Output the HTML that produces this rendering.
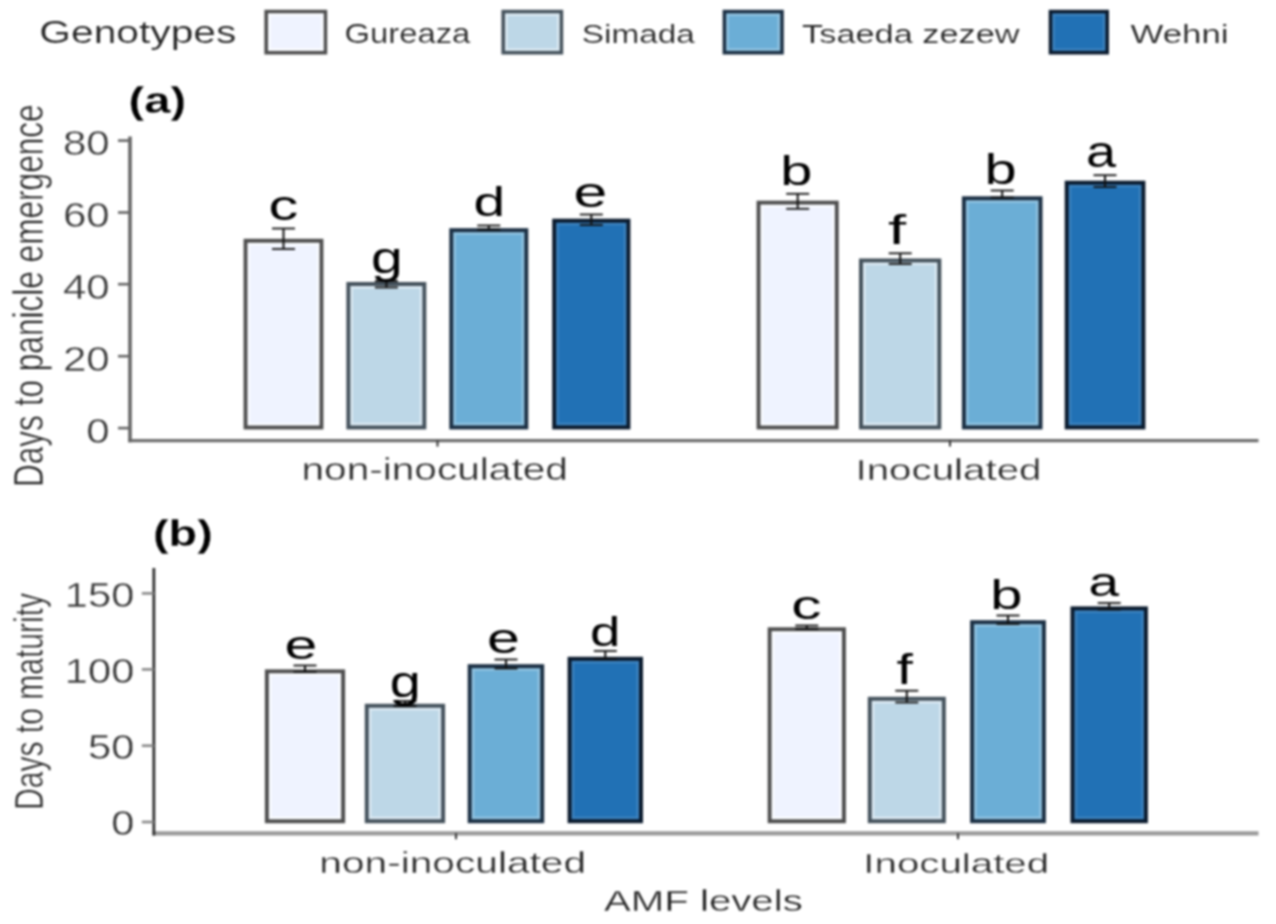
<!DOCTYPE html>
<html><head><meta charset="utf-8"><title>AMF chart</title>
<style>
html,body{margin:0;padding:0;background:#fff;}
body{width:1276px;height:924px;overflow:hidden;}
svg{display:block;}
#wrap{filter:blur(0.9px);width:1276px;height:924px;}
text{font-family:"Liberation Sans",sans-serif;}
</style></head>
<body>
<div id="wrap"><svg width="1276" height="924" viewBox="0 0 1276 924">
<rect width="1276" height="924" fill="#fff"/>
<text transform="matrix(1.2731 0 0 1.0021 39.35 43.16)" font-size="32" font-weight="400" fill="#222" stroke="#fff" stroke-width="0.2">Genotypes</text>
<rect x="266.20" y="11.60" width="59.20" height="41.10" fill="#EFF3FF" stroke="#4e4e4e" stroke-opacity="1" stroke-width="3.6"/>
<rect x="269.30" y="14.70" width="53.00" height="34.90" fill="none" stroke="#fff" stroke-opacity="0.7" stroke-width="2.6"/>
<rect x="503.20" y="11.60" width="58.20" height="41.10" fill="#BDD7E7" stroke="#45525c" stroke-opacity="1" stroke-width="3.6"/>
<rect x="506.30" y="14.70" width="52.00" height="34.90" fill="none" stroke="#fff" stroke-opacity="0.45" stroke-width="2.6"/>
<rect x="724.40" y="11.60" width="57.60" height="41.10" fill="#6BAED6" stroke="#1c3044" stroke-opacity="1" stroke-width="3.6"/>
<rect x="727.50" y="14.70" width="51.40" height="34.90" fill="none" stroke="#fff" stroke-opacity="0.25" stroke-width="2.6"/>
<rect x="1050.50" y="11.60" width="56.70" height="41.10" fill="#2171B5" stroke="#0b1b2e" stroke-opacity="1" stroke-width="3.6"/>
<rect x="1053.60" y="14.70" width="50.50" height="34.90" fill="none" stroke="#fff" stroke-opacity="0.12" stroke-width="2.6"/>
<text transform="matrix(1.1721 0 0 1.0106 344.55 43.03)" font-size="28" font-weight="400" fill="#222" stroke="#fff" stroke-width="0.2">Gureaza</text>
<text transform="matrix(1.1896 0 0 0.9534 581.79 42.64)" font-size="28" font-weight="400" fill="#222" stroke="#fff" stroke-width="0.2">Simada</text>
<text transform="matrix(1.2257 0 0 0.9534 802.12 42.64)" font-size="28" font-weight="400" fill="#222" stroke="#fff" stroke-width="0.2">Tsaeda zezew</text>
<text transform="matrix(1.2441 0 0 0.9534 1130.52 42.64)" font-size="28" font-weight="400" fill="#222" stroke="#fff" stroke-width="0.2">Wehni</text>
<text transform="matrix(1.3881 0 0 1.0937 128.60 113.22)" font-size="34" font-weight="700" fill="#000" stroke="#fff" stroke-width="0.25">(a)</text>
<text transform="matrix(1.3782 0 0 1.1094 153.02 545.51)" font-size="34" font-weight="700" fill="#000" stroke="#fff" stroke-width="0.25">(b)</text>
<text transform="matrix(0 -0.9294 1.2537 0 43.13 487.08)" font-size="34" font-weight="400" fill="#222" stroke="#fff" stroke-width="0.5">Days to panicle emergence</text>
<text transform="matrix(0 -0.8834 1.2222 0 43.35 809.95)" font-size="34" font-weight="400" fill="#222" stroke="#fff" stroke-width="0.5">Days to maturity</text>
<rect x="245.60" y="240.80" width="75.80" height="186.60" fill="#EFF3FF" stroke="#4e4e4e" stroke-opacity="1" stroke-width="4.0"/>
<rect x="248.90" y="244.10" width="69.20" height="180.00" fill="none" stroke="#fff" stroke-opacity="0.7" stroke-width="2.6"/>
<rect x="348.40" y="284.00" width="75.90" height="143.40" fill="#BDD7E7" stroke="#45525c" stroke-opacity="1" stroke-width="4.0"/>
<rect x="351.70" y="287.30" width="69.30" height="136.80" fill="none" stroke="#fff" stroke-opacity="0.45" stroke-width="2.6"/>
<rect x="451.30" y="230.20" width="75.00" height="197.20" fill="#6BAED6" stroke="#1c3044" stroke-opacity="1" stroke-width="4.0"/>
<rect x="454.60" y="233.50" width="68.40" height="190.60" fill="none" stroke="#fff" stroke-opacity="0.25" stroke-width="2.6"/>
<rect x="554.20" y="220.70" width="74.20" height="206.70" fill="#2171B5" stroke="#0b1b2e" stroke-opacity="1" stroke-width="4.0"/>
<rect x="557.50" y="224.00" width="67.60" height="200.10" fill="none" stroke="#fff" stroke-opacity="0.12" stroke-width="2.6"/>
<rect x="758.60" y="202.70" width="78.10" height="224.70" fill="#EFF3FF" stroke="#4e4e4e" stroke-opacity="1" stroke-width="4.0"/>
<rect x="761.90" y="206.00" width="71.50" height="218.10" fill="none" stroke="#fff" stroke-opacity="0.7" stroke-width="2.6"/>
<rect x="861.00" y="260.50" width="78.30" height="166.90" fill="#BDD7E7" stroke="#45525c" stroke-opacity="1" stroke-width="4.0"/>
<rect x="864.30" y="263.80" width="71.70" height="160.30" fill="none" stroke="#fff" stroke-opacity="0.45" stroke-width="2.6"/>
<rect x="963.90" y="198.30" width="76.60" height="229.10" fill="#6BAED6" stroke="#1c3044" stroke-opacity="1" stroke-width="4.0"/>
<rect x="967.20" y="201.60" width="70.00" height="222.50" fill="none" stroke="#fff" stroke-opacity="0.25" stroke-width="2.6"/>
<rect x="1066.70" y="182.70" width="76.70" height="244.70" fill="#2171B5" stroke="#0b1b2e" stroke-opacity="1" stroke-width="4.0"/>
<rect x="1070.00" y="186.00" width="70.10" height="238.10" fill="none" stroke="#fff" stroke-opacity="0.12" stroke-width="2.6"/>
<line x1="283.50" y1="228.50" x2="283.50" y2="249.00" stroke="#111" stroke-width="2.0"/>
<line x1="272.00" y1="228.50" x2="295.00" y2="228.50" stroke="#111" stroke-width="1.8"/>
<line x1="272.00" y1="249.00" x2="295.00" y2="249.00" stroke="#111" stroke-width="1.8"/>
<line x1="386.40" y1="281.00" x2="386.40" y2="287.50" stroke="#111" stroke-width="2.0"/>
<line x1="374.90" y1="281.00" x2="397.90" y2="281.00" stroke="#111" stroke-width="1.8"/>
<line x1="374.90" y1="287.50" x2="397.90" y2="287.50" stroke="#111" stroke-width="1.8"/>
<line x1="488.80" y1="225.50" x2="488.80" y2="229.50" stroke="#111" stroke-width="2.0"/>
<line x1="477.30" y1="225.50" x2="500.30" y2="225.50" stroke="#111" stroke-width="1.8"/>
<line x1="477.30" y1="229.50" x2="500.30" y2="229.50" stroke="#111" stroke-width="1.8"/>
<line x1="591.30" y1="214.50" x2="591.30" y2="225.00" stroke="#111" stroke-width="2.0"/>
<line x1="579.80" y1="214.50" x2="602.80" y2="214.50" stroke="#111" stroke-width="1.8"/>
<line x1="579.80" y1="225.00" x2="602.80" y2="225.00" stroke="#111" stroke-width="1.8"/>
<line x1="797.70" y1="193.80" x2="797.70" y2="208.80" stroke="#111" stroke-width="2.0"/>
<line x1="786.20" y1="193.80" x2="809.20" y2="193.80" stroke="#111" stroke-width="1.8"/>
<line x1="786.20" y1="208.80" x2="809.20" y2="208.80" stroke="#111" stroke-width="1.8"/>
<line x1="900.20" y1="253.30" x2="900.20" y2="264.00" stroke="#111" stroke-width="2.0"/>
<line x1="888.70" y1="253.30" x2="911.70" y2="253.30" stroke="#111" stroke-width="1.8"/>
<line x1="888.70" y1="264.00" x2="911.70" y2="264.00" stroke="#111" stroke-width="1.8"/>
<line x1="1002.20" y1="190.50" x2="1002.20" y2="197.50" stroke="#111" stroke-width="2.0"/>
<line x1="990.70" y1="190.50" x2="1013.70" y2="190.50" stroke="#111" stroke-width="1.8"/>
<line x1="990.70" y1="197.50" x2="1013.70" y2="197.50" stroke="#111" stroke-width="1.8"/>
<line x1="1105.00" y1="175.20" x2="1105.00" y2="187.00" stroke="#111" stroke-width="2.0"/>
<line x1="1093.50" y1="175.20" x2="1116.50" y2="175.20" stroke="#111" stroke-width="1.8"/>
<line x1="1093.50" y1="187.00" x2="1116.50" y2="187.00" stroke="#111" stroke-width="1.8"/>
<text transform="matrix(1.4175 0 0 1.0002 268.57 219.88)" font-size="42" font-weight="400" fill="#000">c</text>
<text transform="matrix(1.3598 0 0 1.0738 371.07 272.84)" font-size="42" font-weight="400" fill="#000">g</text>
<text transform="matrix(1.3545 0 0 0.9524 473.58 215.70)" font-size="42" font-weight="400" fill="#000">d</text>
<text transform="matrix(1.4438 0 0 1.0176 573.42 206.67)" font-size="42" font-weight="400" fill="#000">e</text>
<text transform="matrix(1.3757 0 0 0.9653 780.14 185.39)" font-size="42" font-weight="400" fill="#000">b</text>
<text transform="matrix(1.5544 0 0 0.9722 888.12 244.40)" font-size="42" font-weight="400" fill="#000">f</text>
<text transform="matrix(1.3757 0 0 0.9977 984.44 183.98)" font-size="42" font-weight="400" fill="#000">b</text>
<text transform="matrix(1.2869 0 0 1.0568 1085.90 167.06)" font-size="42" font-weight="400" fill="#000">a</text>
<line x1="128.20" y1="440.60" x2="1258.50" y2="440.60" stroke="#6e6e6e" stroke-width="3.4"/>
<line x1="130.00" y1="136.50" x2="130.00" y2="442.30" stroke="#666" stroke-width="3.6"/>
<line x1="118.00" y1="428.10" x2="130.00" y2="428.10" stroke="#666" stroke-width="2.6"/>
<line x1="118.00" y1="356.20" x2="130.00" y2="356.20" stroke="#666" stroke-width="2.6"/>
<line x1="118.00" y1="284.20" x2="130.00" y2="284.20" stroke="#666" stroke-width="2.6"/>
<line x1="118.00" y1="212.50" x2="130.00" y2="212.50" stroke="#666" stroke-width="2.6"/>
<line x1="118.00" y1="140.60" x2="130.00" y2="140.60" stroke="#666" stroke-width="2.6"/>
<line x1="437.50" y1="440.60" x2="437.50" y2="446.60" stroke="#333" stroke-width="2.0"/>
<line x1="950.00" y1="440.60" x2="950.00" y2="446.60" stroke="#333" stroke-width="2.0"/>
<text transform="matrix(1.3149 0 0 1.1148 86.24 442.66)" font-size="32" font-weight="400" fill="#333" stroke="#fff" stroke-width="0.4">0</text>
<text transform="matrix(1.3149 0 0 1.1148 62.89 370.76)" font-size="32" font-weight="400" fill="#333" stroke="#fff" stroke-width="0.4">20</text>
<text transform="matrix(1.3149 0 0 1.1148 62.89 298.76)" font-size="32" font-weight="400" fill="#333" stroke="#fff" stroke-width="0.4">40</text>
<text transform="matrix(1.3149 0 0 1.1148 62.89 227.06)" font-size="32" font-weight="400" fill="#333" stroke="#fff" stroke-width="0.4">60</text>
<text transform="matrix(1.3149 0 0 1.1148 62.89 155.16)" font-size="32" font-weight="400" fill="#333" stroke="#fff" stroke-width="0.4">80</text>
<text transform="matrix(1.2689 0 0 0.9602 301.47 479.89)" font-size="32" font-weight="400" fill="#2a2a2a" stroke="#fff" stroke-width="0.35">non-inoculated</text>
<text transform="matrix(1.2604 0 0 0.9432 855.48 479.69)" font-size="32" font-weight="400" fill="#2a2a2a" stroke="#fff" stroke-width="0.35">Inoculated</text>
<rect x="266.90" y="671.40" width="76.20" height="149.80" fill="#EFF3FF" stroke="#4e4e4e" stroke-opacity="1" stroke-width="4.0"/>
<rect x="270.20" y="674.70" width="69.60" height="143.20" fill="none" stroke="#fff" stroke-opacity="0.7" stroke-width="2.6"/>
<rect x="366.80" y="705.80" width="76.30" height="115.40" fill="#BDD7E7" stroke="#45525c" stroke-opacity="1" stroke-width="4.0"/>
<rect x="370.10" y="709.10" width="69.70" height="108.80" fill="none" stroke="#fff" stroke-opacity="0.45" stroke-width="2.6"/>
<rect x="469.70" y="666.20" width="72.50" height="155.00" fill="#6BAED6" stroke="#1c3044" stroke-opacity="1" stroke-width="4.0"/>
<rect x="473.00" y="669.50" width="65.90" height="148.40" fill="none" stroke="#fff" stroke-opacity="0.25" stroke-width="2.6"/>
<rect x="569.60" y="658.80" width="71.40" height="162.40" fill="#2171B5" stroke="#0b1b2e" stroke-opacity="1" stroke-width="4.0"/>
<rect x="572.90" y="662.10" width="64.80" height="155.80" fill="none" stroke="#fff" stroke-opacity="0.12" stroke-width="2.6"/>
<rect x="769.70" y="629.30" width="74.20" height="191.90" fill="#EFF3FF" stroke="#4e4e4e" stroke-opacity="1" stroke-width="4.0"/>
<rect x="773.00" y="632.60" width="67.60" height="185.30" fill="none" stroke="#fff" stroke-opacity="0.7" stroke-width="2.6"/>
<rect x="869.80" y="698.80" width="74.00" height="122.40" fill="#BDD7E7" stroke="#45525c" stroke-opacity="1" stroke-width="4.0"/>
<rect x="873.10" y="702.10" width="67.40" height="115.80" fill="none" stroke="#fff" stroke-opacity="0.45" stroke-width="2.6"/>
<rect x="972.10" y="622.20" width="71.80" height="199.00" fill="#6BAED6" stroke="#1c3044" stroke-opacity="1" stroke-width="4.0"/>
<rect x="975.40" y="625.50" width="65.20" height="192.40" fill="none" stroke="#fff" stroke-opacity="0.25" stroke-width="2.6"/>
<rect x="1072.50" y="608.40" width="73.40" height="212.80" fill="#2171B5" stroke="#0b1b2e" stroke-opacity="1" stroke-width="4.0"/>
<rect x="1075.80" y="611.70" width="66.80" height="206.20" fill="none" stroke="#fff" stroke-opacity="0.12" stroke-width="2.6"/>
<line x1="305.00" y1="665.50" x2="305.00" y2="672.00" stroke="#111" stroke-width="2.0"/>
<line x1="293.50" y1="665.50" x2="316.50" y2="665.50" stroke="#111" stroke-width="1.8"/>
<line x1="293.50" y1="672.00" x2="316.50" y2="672.00" stroke="#111" stroke-width="1.8"/>
<line x1="405.00" y1="701.00" x2="405.00" y2="706.00" stroke="#111" stroke-width="2.0"/>
<line x1="393.50" y1="701.00" x2="416.50" y2="701.00" stroke="#111" stroke-width="1.8"/>
<line x1="393.50" y1="706.00" x2="416.50" y2="706.00" stroke="#111" stroke-width="1.8"/>
<line x1="506.00" y1="659.50" x2="506.00" y2="668.50" stroke="#111" stroke-width="2.0"/>
<line x1="494.50" y1="659.50" x2="517.50" y2="659.50" stroke="#111" stroke-width="1.8"/>
<line x1="494.50" y1="668.50" x2="517.50" y2="668.50" stroke="#111" stroke-width="1.8"/>
<line x1="605.30" y1="651.00" x2="605.30" y2="659.00" stroke="#111" stroke-width="2.0"/>
<line x1="593.80" y1="651.00" x2="616.80" y2="651.00" stroke="#111" stroke-width="1.8"/>
<line x1="593.80" y1="659.00" x2="616.80" y2="659.00" stroke="#111" stroke-width="1.8"/>
<line x1="806.80" y1="625.50" x2="806.80" y2="629.00" stroke="#111" stroke-width="2.0"/>
<line x1="795.30" y1="625.50" x2="818.30" y2="625.50" stroke="#111" stroke-width="1.8"/>
<line x1="795.30" y1="629.00" x2="818.30" y2="629.00" stroke="#111" stroke-width="1.8"/>
<line x1="906.80" y1="690.70" x2="906.80" y2="702.50" stroke="#111" stroke-width="2.0"/>
<line x1="895.30" y1="690.70" x2="918.30" y2="690.70" stroke="#111" stroke-width="1.8"/>
<line x1="895.30" y1="702.50" x2="918.30" y2="702.50" stroke="#111" stroke-width="1.8"/>
<line x1="1008.00" y1="615.50" x2="1008.00" y2="624.00" stroke="#111" stroke-width="2.0"/>
<line x1="996.50" y1="615.50" x2="1019.50" y2="615.50" stroke="#111" stroke-width="1.8"/>
<line x1="996.50" y1="624.00" x2="1019.50" y2="624.00" stroke="#111" stroke-width="1.8"/>
<line x1="1109.20" y1="603.00" x2="1109.20" y2="609.50" stroke="#111" stroke-width="2.0"/>
<line x1="1097.70" y1="603.00" x2="1120.70" y2="603.00" stroke="#111" stroke-width="1.8"/>
<line x1="1097.70" y1="609.50" x2="1120.70" y2="609.50" stroke="#111" stroke-width="1.8"/>
<text transform="matrix(1.4032 0 0 0.9785 284.50 659.09)" font-size="42" font-weight="400" fill="#000">e</text>
<text transform="matrix(1.3280 0 0 1.0610 389.83 697.15)" font-size="42" font-weight="400" fill="#000">g</text>
<text transform="matrix(1.4032 0 0 1.0046 487.10 653.48)" font-size="42" font-weight="400" fill="#000">e</text>
<text transform="matrix(1.3016 0 0 0.9653 589.88 645.69)" font-size="42" font-weight="400" fill="#000">d</text>
<text transform="matrix(1.4396 0 0 0.9785 791.33 619.29)" font-size="42" font-weight="400" fill="#000">c</text>
<text transform="matrix(1.4016 0 0 0.9985 896.52 684.40)" font-size="42" font-weight="400" fill="#000">f</text>
<text transform="matrix(1.3757 0 0 0.9524 990.14 609.10)" font-size="42" font-weight="400" fill="#000">b</text>
<text transform="matrix(1.3101 0 0 0.9785 1088.46 596.19)" font-size="42" font-weight="400" fill="#000">a</text>
<line x1="152.45" y1="833.30" x2="1258.50" y2="833.30" stroke="#9a9a9a" stroke-width="4.2"/>
<line x1="153.85" y1="568.00" x2="153.85" y2="835.40" stroke="#2e2e2e" stroke-width="2.8"/>
<line x1="141.85" y1="822.00" x2="153.85" y2="822.00" stroke="#888" stroke-width="2.6"/>
<line x1="141.85" y1="745.70" x2="153.85" y2="745.70" stroke="#888" stroke-width="2.6"/>
<line x1="141.85" y1="669.40" x2="153.85" y2="669.40" stroke="#888" stroke-width="2.6"/>
<line x1="141.85" y1="593.40" x2="153.85" y2="593.40" stroke="#888" stroke-width="2.6"/>
<line x1="456.00" y1="833.30" x2="456.00" y2="839.30" stroke="#333" stroke-width="2.0"/>
<line x1="958.00" y1="833.30" x2="958.00" y2="839.30" stroke="#333" stroke-width="2.0"/>
<text transform="matrix(1.3010 0 0 1.0707 111.17 835.28)" font-size="32" font-weight="400" fill="#333" stroke="#fff" stroke-width="0.4">0</text>
<text transform="matrix(1.3010 0 0 1.0707 88.07 758.98)" font-size="32" font-weight="400" fill="#333" stroke="#fff" stroke-width="0.4">50</text>
<text transform="matrix(1.3010 0 0 1.0707 64.86 682.68)" font-size="32" font-weight="400" fill="#333" stroke="#fff" stroke-width="0.4">100</text>
<text transform="matrix(1.3010 0 0 1.0707 64.86 606.68)" font-size="32" font-weight="400" fill="#333" stroke="#fff" stroke-width="0.4">150</text>
<text transform="matrix(1.2708 0 0 0.9220 319.36 873.40)" font-size="32" font-weight="400" fill="#2a2a2a" stroke="#fff" stroke-width="0.35">non-inoculated</text>
<text transform="matrix(1.2597 0 0 0.8922 863.28 872.91)" font-size="32" font-weight="400" fill="#2a2a2a" stroke="#fff" stroke-width="0.35">Inoculated</text>
<text transform="matrix(1.2569 0 0 0.9050 603.91 911.30)" font-size="32" font-weight="400" fill="#222" stroke="#fff" stroke-width="0.35">AMF levels</text>
</svg></div>
</body></html>
